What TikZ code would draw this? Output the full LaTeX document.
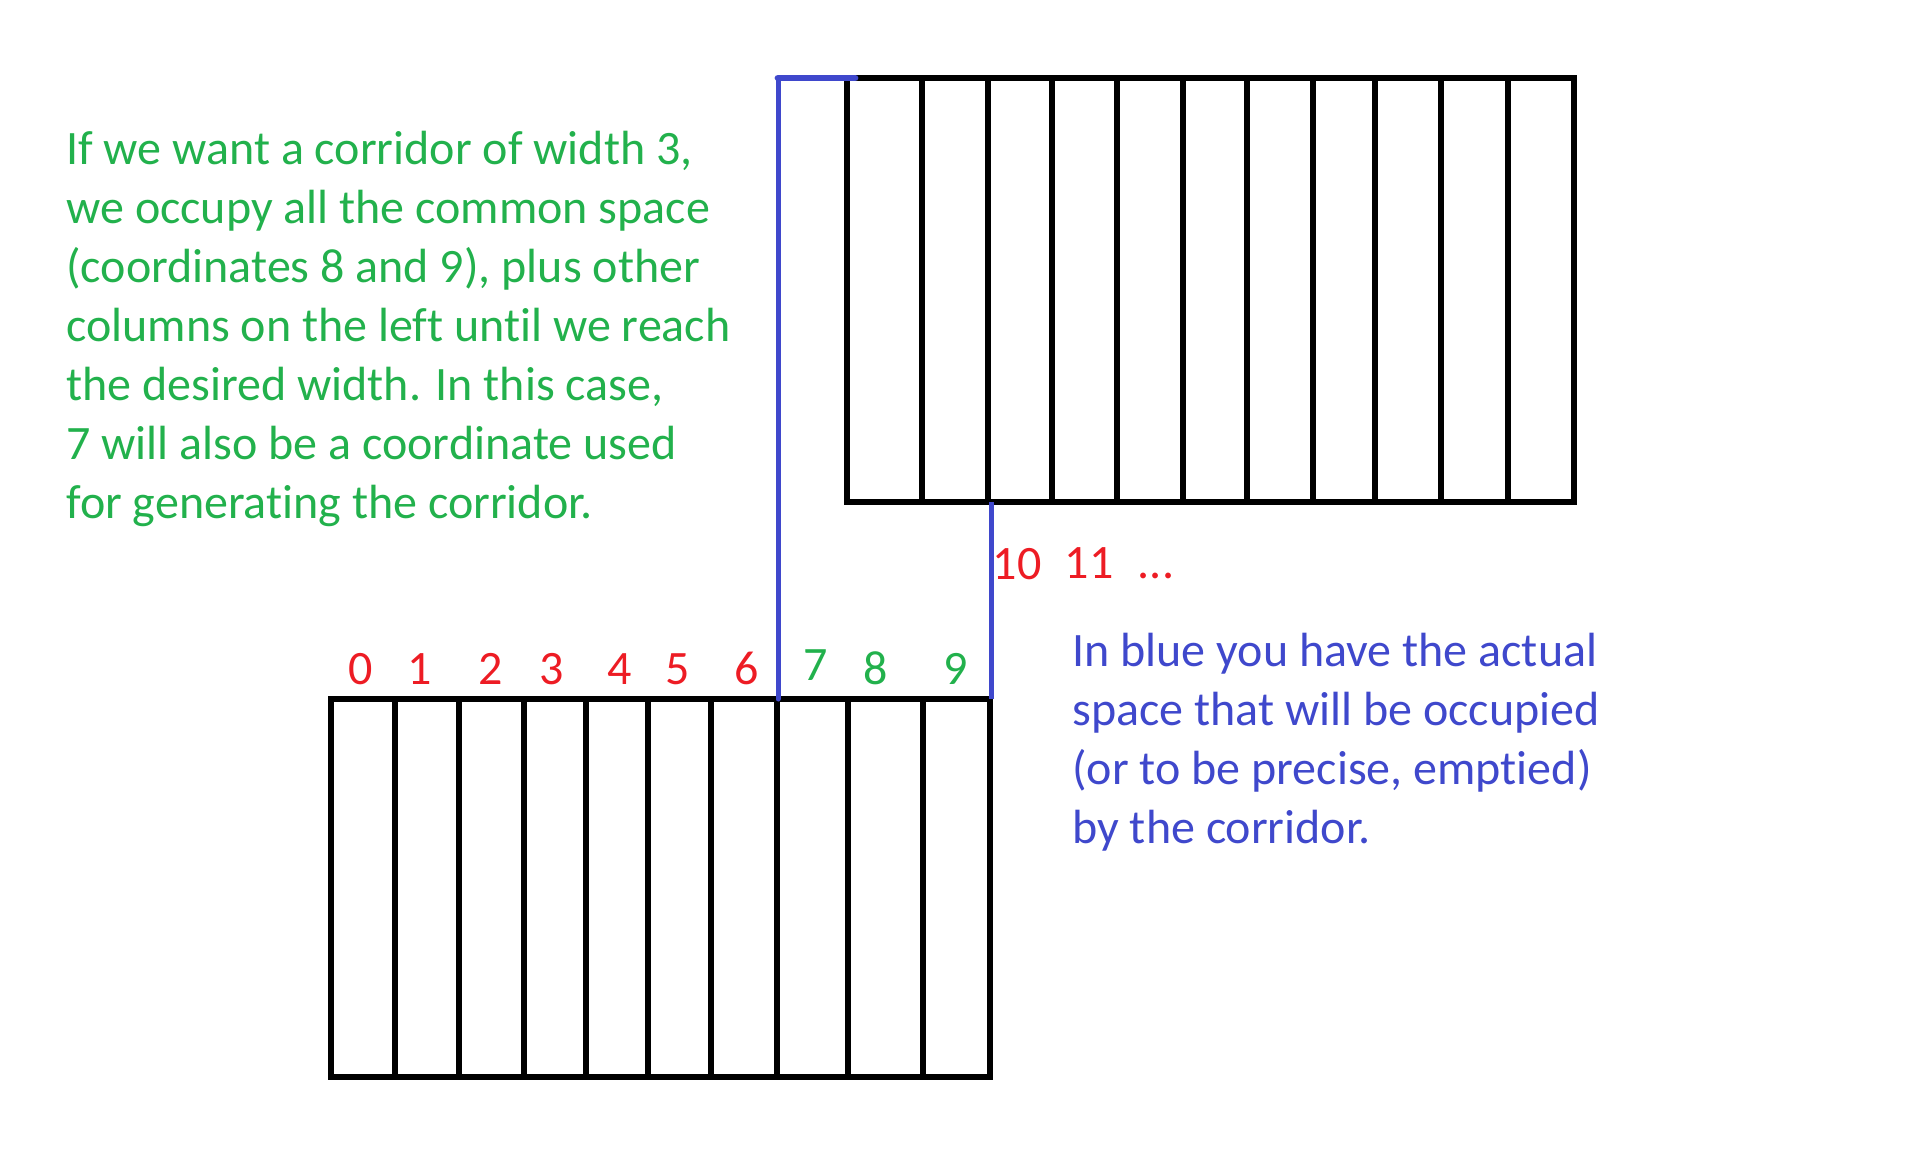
\documentclass[tikz,border=0pt]{standalone}
\usepackage{fontspec}
\setmainfont[Ligatures=NoCommon]{Carlito}
\newcommand{\nl}{\kern0pt{}}
\definecolor{pgreen}{HTML}{22B14C}
\definecolor{pred}{HTML}{ED1C24}
\definecolor{pblue}{HTML}{3F48CC}
\tikzset{
  grid/.style={draw=black, line width=2.9pt},
  corr/.style={draw=pblue, line width=2.5pt},
  txt/.style={inner sep=0pt, anchor=base west, font=\fontsize{24pt}{29.5pt}\selectfont},
  num/.style={inner sep=0pt, anchor=base, font=\fontsize{24pt}{29.5pt}\selectfont},
}
\begin{document}
\begin{tikzpicture}[x=0.5pt, y=-0.5pt]
\useasboundingbox (0,0) rectangle (1910,1162);
% top grid
\draw[grid] (847,78) rectangle (1574,502);
\foreach \x in {922,988,1052,1117,1183,1247,1313,1375,1441,1508}
  \draw[grid] (\x,78) -- (\x,502);
% bottom grid
\draw[grid] (331,699) rectangle (990,1077);
\foreach \x in {395,459,524,586,648,711,777,848,923}
  \draw[grid] (\x,699) -- (\x,1077);
% corridor
\coordinate (c1) at (778,699);
\coordinate (c2) at (778,78);
\coordinate (c3) at (855,78);
\coordinate (c4) at (991,502);
\coordinate (c5) at (991,699);
\draw[corr, line cap=round] (c1) -- (c2);
\draw[corr, line width=3.4pt, line cap=round] (c2) -- (c3);
\draw[corr] (c4) -- (c5);
% numbers
\foreach \x/\n [count=\i] in {361/0,420/1,491/2,552/3,620/4,678/5,747/6}
  \node[num, text=pred] (n\i) at (\x,684) {\n};
\node[num, text=pgreen] (n7) at (816,680) {7};
\node[num, text=pgreen] (n8) at (876,684) {8};
\node[num, text=pgreen] (n9) at (956,684) {9};
\node[num, text=pred] (n10) at (1017,579) {10};
\node[num, text=pred] (n11) at (1089,578) {11};
\node[num, text=pred] (n12) at (1156,578) {...};
% green paragraph
\foreach \t [count=\i] in {{If we want a corridor of width 3,},{we occupy all the common space},{(coordinates 8 and 9), plus other},{columns on the lef\nl t unt\nl il we reach},{the desired width. In this case,},{7 will also be a coordinate used},{for generat\nl ing the corridor.}}
  \node[txt, text=pgreen] (g\i) at (66,{164+59*(\i-1)}) {\t};
% blue paragraph
\foreach \t [count=\i] in {{In blue you have the actual},{space that will be occupied},{(or to be precise, empt\nl ied)},{by the corridor.}}
  \node[txt, text=pblue] (b\i) at (1072,{666+59*(\i-1)}) {\t};
\end{tikzpicture}
\end{document}
